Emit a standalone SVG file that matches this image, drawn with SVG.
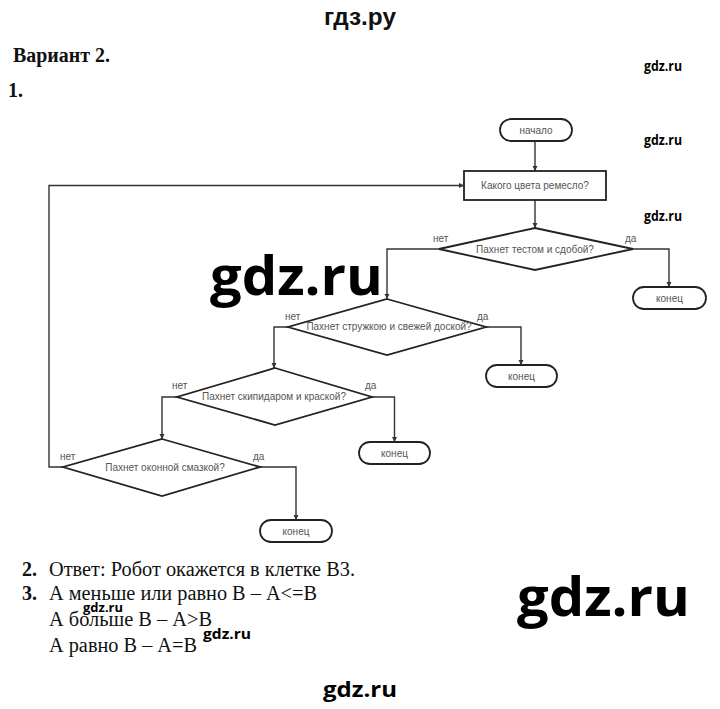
<svg xmlns="http://www.w3.org/2000/svg" width="720" height="709" viewBox="0 0 720 709">
<defs>
<marker id="arr" markerWidth="6" markerHeight="6" refX="5" refY="3" orient="auto" markerUnits="userSpaceOnUse">
<path d="M0,0.5 L5,3 L0,5.5 Z" fill="#333"/>
</marker>
<style>
.node{fill:#fff;stroke:#222;stroke-width:1.8}
.lbl{font-family:"Liberation Sans",Arial,sans-serif;font-size:10px;fill:#555;text-anchor:middle}
.yn{font-family:"Liberation Sans",Arial,sans-serif;font-size:10px;fill:#555}
.conn path{fill:none;stroke:#333;stroke-width:1.4}
.serif{font-family:"Liberation Serif","Times New Roman",serif;font-size:20px;fill:#111}
.wm{font-family:"Open Sans","Liberation Sans",sans-serif;font-weight:700;fill:#000}
</style>
</defs>
<rect width="720" height="709" fill="#fff"/>

<text x="360" y="25" font-family="Liberation Sans, Arial, sans-serif" font-weight="700" font-size="23" fill="#111" text-anchor="middle" textLength="72" lengthAdjust="spacingAndGlyphs">гдз.ру</text>
<text x="13" y="62" class="serif" font-weight="700" textLength="97" lengthAdjust="spacingAndGlyphs">Вариант 2.</text>
<text x="8" y="97" class="serif" font-weight="700">1.</text>

<g class="conn" id="connectors">
<path d="M535,141 V171" marker-end="url(#arr)"/>
<path d="M535,200 V228" marker-end="url(#arr)"/>
<path d="M633,249 H669 V287" marker-end="url(#arr)"/>
<path d="M439,249 H387 V299" marker-end="url(#arr)"/>
<path d="M486,327 H521 V365" marker-end="url(#arr)"/>
<path d="M288,327 H274 V368" marker-end="url(#arr)"/>
<path d="M372,397 H394.5 V442" marker-end="url(#arr)"/>
<path d="M177,397 H162 V439" marker-end="url(#arr)"/>
<path d="M260,467 H296 V520" marker-end="url(#arr)"/>
<path d="M63,467 H49 V185.5 H464" marker-end="url(#arr)"/>
</g>

<g id="start">
<rect class="node" x="500" y="119" width="72" height="22" rx="11"/>
<text class="lbl" x="536" y="133.5">начало</text>
</g>
<g id="process">
<rect class="node" x="464" y="171" width="142" height="29"/>
<text class="lbl" x="535" y="189">Какого цвета ремесло?</text>
</g>
<g id="d1">
<path class="node" d="M535,228 L633,249 L535,270 L439,249 Z"/>
<text class="lbl" x="535" y="252.5">Пахнет тестом и сдобой?</text>
<text class="yn" x="433" y="241.5">нет</text>
<text class="yn" x="625" y="241.5">да</text>
</g>
<g id="end1">
<rect class="node" x="633" y="287" width="73" height="22" rx="11"/>
<text class="lbl" x="669.5" y="301.5">конец</text>
</g>
<g id="d2">
<path class="node" d="M387,299 L486,327 L387,355 L288,327 Z"/>
<text class="lbl" x="389" y="330">Пахнет стружкою и свежей доской?</text>
<text class="yn" x="285" y="320">нет</text>
<text class="yn" x="477" y="320">да</text>
</g>
<g id="end2">
<rect class="node" x="486" y="365" width="71" height="22" rx="11"/>
<text class="lbl" x="521.5" y="379.5">конец</text>
</g>
<g id="d3">
<path class="node" d="M275,368 L372,397 L275,425 L177,397 Z"/>
<text class="lbl" x="274" y="400">Пахнет скипидаром и краской?</text>
<text class="yn" x="172" y="389">нет</text>
<text class="yn" x="365" y="389">да</text>
</g>
<g id="end3">
<rect class="node" x="359" y="442" width="71" height="22" rx="11"/>
<text class="lbl" x="394.5" y="456.5">конец</text>
</g>
<g id="d4">
<path class="node" d="M162,439 L260,467 L162,496 L63,467 Z"/>
<text class="lbl" x="165" y="470.5">Пахнет оконной смазкой?</text>
<text class="yn" x="60" y="460">нет</text>
<text class="yn" x="253" y="460">да</text>
</g>
<g id="end4">
<rect class="node" x="260" y="520" width="72" height="22" rx="11"/>
<text class="lbl" x="296" y="534.5">конец</text>
</g>

<text x="22" y="576" class="serif" font-weight="700">2.</text>
<text x="49" y="576" class="serif" textLength="306" lengthAdjust="spacingAndGlyphs">Ответ: Робот окажется в клетке В3.</text>
<text x="22" y="600" class="serif" font-weight="700">3.</text>
<text x="49" y="600" class="serif" textLength="268" lengthAdjust="spacingAndGlyphs">А меньше или равно В – А&lt;=В</text>
<text x="49" y="626" class="serif" textLength="163" lengthAdjust="spacingAndGlyphs">А больше В – А&gt;В</text>
<text x="49" y="652" class="serif" textLength="148" lengthAdjust="spacingAndGlyphs">А равно В – А=В</text>

<text x="644" y="71" class="wm" font-size="14" textLength="38" lengthAdjust="spacingAndGlyphs" font-weight="600">gdz.ru</text>
<text x="644" y="145" class="wm" font-size="14" textLength="38" lengthAdjust="spacingAndGlyphs" font-weight="600">gdz.ru</text>
<text x="644" y="221" class="wm" font-size="14" textLength="38" lengthAdjust="spacingAndGlyphs" font-weight="600">gdz.ru</text>
<text x="210" y="295" class="wm" font-size="54" textLength="173" lengthAdjust="spacingAndGlyphs">gdz.ru</text>
<text x="517" y="616" class="wm" font-size="54" textLength="173" lengthAdjust="spacingAndGlyphs">gdz.ru</text>
<text x="83" y="612" class="wm" font-size="12" textLength="40" lengthAdjust="spacingAndGlyphs" font-weight="600">gdz.ru</text>
<text x="203" y="639" class="wm" font-size="14" textLength="48" lengthAdjust="spacingAndGlyphs" font-weight="600">gdz.ru</text>
<text x="323" y="697" class="wm" font-size="21" textLength="74" lengthAdjust="spacingAndGlyphs" fill="#111">gdz.ru</text>
</svg>
